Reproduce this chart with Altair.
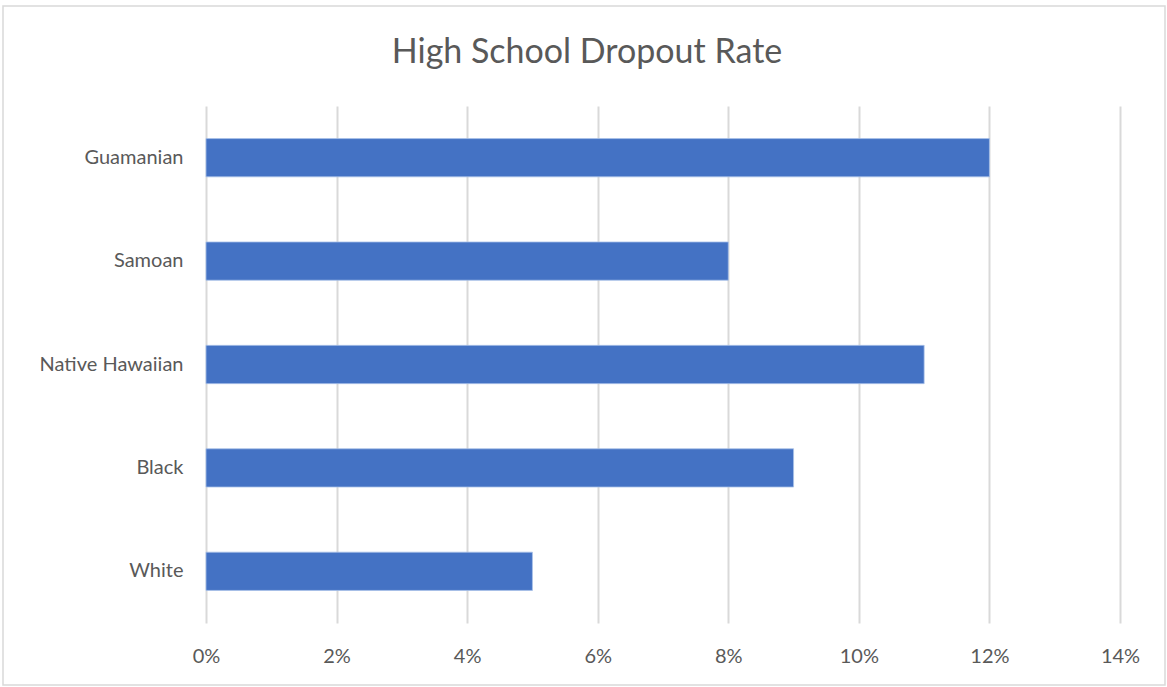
import altair as alt
import pandas as pd

title_text = "High School Dropout Rate"
groups = ["Guamanian", "Samoan", "Native Hawaiian", "Black", "White"]
rates = [0.12, 0.08, 0.11, 0.09, 0.05]
x_ticks = [0, 0.02, 0.04, 0.06, 0.08, 0.10, 0.12, 0.14]

df = pd.DataFrame({"group": groups, "rate": rates})

FONT = "Lato"
GREY = "#595959"

bars = alt.Chart(df).mark_bar(color="#4472C4", stroke="#a9c1e8", strokeWidth=0.8).encode(
    x=alt.X(
        "rate:Q",
        scale=alt.Scale(domain=[0, 0.14], nice=False),
        axis=alt.Axis(
            values=x_ticks,
            format=".0%",
            title=None,
            domain=False,
            ticks=False,
            grid=True,
            gridColor="#d9d9d9",
            gridWidth=2,
            labelFlush=False,
            labelFont=FONT,
            labelFontSize=20,
            labelColor=GREY,
            labelPadding=23,
        ),
    ),
    y=alt.Y(
        "group:N",
        sort=groups,
        scale=alt.Scale(paddingInner=0.63, paddingOuter=0.315),
        axis=alt.Axis(
            title=None,
            domain=False,
            ticks=False,
            labelFont=FONT,
            labelFontSize=20,
            labelColor=GREY,
            labelPadding=23,
        ),
    ),
)

one = pd.DataFrame({"a": [0]})

border = alt.Chart(one).mark_rect(
    fill=None, stroke="#d9d9d9", strokeWidth=1.5
).encode(
    x=alt.value(-203),
    x2=alt.value(959),
    y=alt.value(-100),
    y2=alt.value(579),
)

title = alt.Chart(one).mark_text(
    font=FONT, fontSize=34, color=GREY, align="center", baseline="alphabetic"
).encode(
    x=alt.value(381),
    y=alt.value(-43),
    text=alt.value(title_text),
)

chart = alt.layer(border, bars, title).properties(
    width=914,
    height=517,
    autosize=alt.AutoSizeParams(type="none"),
    padding={"left": 206, "top": 106, "right": 47, "bottom": 64},
).configure_view(stroke=None)

chart.save("out.html", embed_options={"renderer": "svg", "actions": False})
